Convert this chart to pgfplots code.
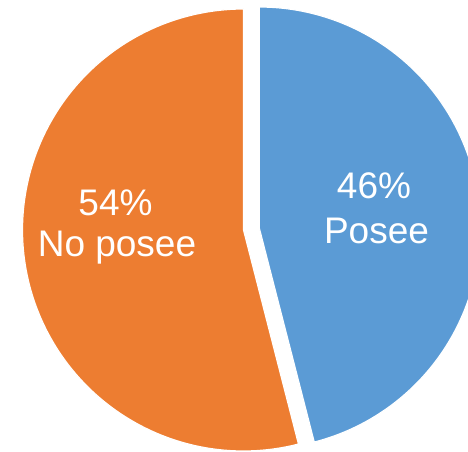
\documentclass[border=0pt]{standalone}
\usepackage{pgfplots}
\pgfplotsset{compat=1.18}
\usepackage{fontspec}
\setmainfont{Liberation Sans}
\definecolor{xlblue}{HTML}{5B9BD5}
\definecolor{xlorange}{HTML}{ED7D31}
% data: Posee 46, No posee 54
\pgfmathsetmacro{\vA}{46}
\pgfmathsetmacro{\vB}{54}
\pgfmathsetmacro{\aStart}{90-\vA*3.6}   % blue: from here to 90
\pgfmathsetmacro{\bisA}{(90+\aStart)/2}
\pgfmathsetmacro{\bisB}{\bisA+180}
\def\cx{251.4}
\def\cy{222}
\def\R{221}
\def\ex{7.95}
\pgfmathsetmacro{\ax}{\cx+\ex*cos(\bisA)}
\pgfmathsetmacro{\ay}{\cy+\ex*sin(\bisA)}
\pgfmathsetmacro{\bx}{\cx+\ex*cos(\bisB)}
\pgfmathsetmacro{\by}{\cy+\ex*sin(\bisB)}
\pgfmathsetmacro{\bEnd}{\aStart+360}
\begin{document}
\begin{tikzpicture}
\clip (0,0) rectangle (468pt,451pt);
\begin{axis}[at={(0,0)}, anchor=south west,
  width=468pt,height=451pt,scale only axis,
  xmin=0,xmax=468,ymin=0,ymax=451,hide axis,
  clip=true]
\addplot[fill=xlblue, draw=white, line width=1.2pt, domain=\aStart:90, samples=200, variable=\t]
  ({\ax+\R*cos(\t)},{\ay+\R*sin(\t)}) -- (axis cs:\ax,\ay) -- cycle;
\addplot[fill=xlorange, draw=white, line width=1.2pt, domain=90:\bEnd, samples=200, variable=\t]
  ({\bx+\R*cos(\t)},{\by+\R*sin(\t)}) -- (axis cs:\bx,\by) -- cycle;
\tikzset{lbl/.style={text=white, font=\fontsize{37}{42}\selectfont, anchor=base, inner sep=0pt}}
\node[lbl] at (axis cs:115.5,236) {54\%};
\node[lbl] at (axis cs:117,195) {No posee};
\node[lbl] at (axis cs:374,252.5) {46\%};
\node[lbl] at (axis cs:376.5,208) {Posee};
\end{axis}
\end{tikzpicture}
\end{document}
